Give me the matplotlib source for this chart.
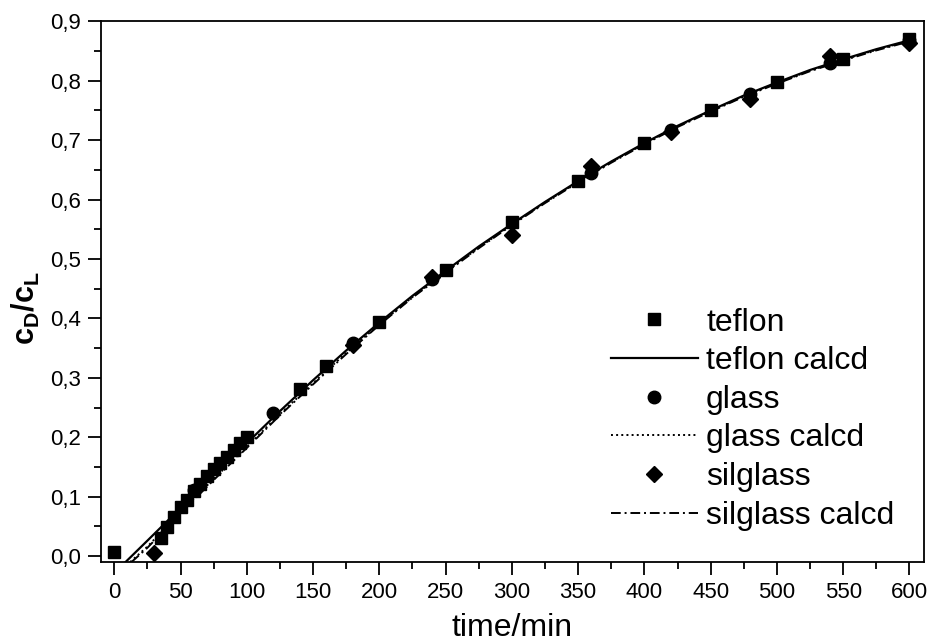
import numpy as np
import matplotlib
matplotlib.use('Agg')
import matplotlib.pyplot as plt
from matplotlib.ticker import MultipleLocator, FuncFormatter

plt.rcParams['font.family'] = ['Liberation Sans', 'DejaVu Sans']
plt.rcParams['mathtext.fontset'] = 'custom'
plt.rcParams['mathtext.bf'] = 'Liberation Sans:bold'
plt.rcParams['mathtext.rm'] = 'Liberation Sans'

# measured points
teflon_t = [0, 35, 40, 45, 50, 55, 60, 65, 70, 75, 80, 85, 90, 95, 100,
            140, 160, 200, 250, 300, 350, 400, 450, 500, 550, 600]
teflon_c = [0.007, 0.030, 0.049, 0.066, 0.082, 0.095, 0.109, 0.121, 0.134, 0.146,
            0.156, 0.167, 0.179, 0.190, 0.200,
            0.281, 0.320, 0.394, 0.481, 0.562, 0.632, 0.695, 0.750, 0.797, 0.836, 0.870]

glass_t = [60, 120, 180, 240, 360, 420, 480, 540, 600]
glass_c = [0.111, 0.240, 0.358, 0.466, 0.645, 0.717, 0.778, 0.829, 0.868]

silglass_t = [30, 180, 240, 300, 360, 420, 480, 540, 600]
silglass_c = [0.005, 0.355, 0.470, 0.541, 0.656, 0.714, 0.770, 0.841, 0.864]

# calculated curves
fit_t = [25, 50, 75, 100, 125, 150, 175, 200, 225, 250, 275, 300, 325,
         350, 375, 400, 425, 450, 475, 500, 525, 550, 575, 600]
teflon_fit = [0.026, 0.081, 0.136, 0.190, 0.244, 0.296, 0.346, 0.393, 0.438, 0.480,
              0.521, 0.559, 0.596, 0.631, 0.664, 0.695, 0.724, 0.750, 0.775, 0.797,
              0.818, 0.836, 0.853, 0.868]
glass_fit = [0.016, 0.074, 0.130, 0.184, 0.239, 0.291, 0.342, 0.390, 0.436, 0.478,
             0.519, 0.558, 0.595, 0.630, 0.663, 0.694, 0.723, 0.749, 0.774, 0.796,
             0.817, 0.835, 0.852, 0.867]
silglass_fit = [0.014, 0.072, 0.128, 0.182, 0.237, 0.289, 0.340, 0.389, 0.435, 0.477,
                0.518, 0.557, 0.594, 0.629, 0.662, 0.693, 0.722, 0.748, 0.773, 0.795,
                0.816, 0.834, 0.851, 0.866]
teflon_start = (8.5, -0.01)
glass_start = (12.0, -0.01)
silglass_start = (13.0, -0.01)

fig = plt.figure(figsize=(9.33, 6.44), dpi=100)
ax = fig.add_axes([0.1083, 0.1273, 0.8821, 0.8397])

ax.plot(teflon_t, teflon_c, 's', color='black', ms=8, label='teflon', zorder=3)
ax.plot([teflon_start[0]] + fit_t, [teflon_start[1]] + teflon_fit, '-', color='black',
        lw=1.6, label='teflon calcd')
ax.plot(glass_t, glass_c, 'o', color='black', ms=9, label='glass', zorder=3)
ax.plot([glass_start[0]] + fit_t, [glass_start[1]] + glass_fit, ':', color='black',
        lw=1.4, label='glass calcd')
ax.plot(silglass_t, silglass_c, 'D', color='black', ms=8.5, label='silglass', zorder=3)
ax.plot([silglass_start[0]] + fit_t, [silglass_start[1]] + silglass_fit, '-.',
        color='black', lw=1.4, dashes=(5, 2, 1, 2), label='silglass calcd')

ax.set_xlim(-10, 611)
ax.set_ylim(-0.01, 0.9)
ax.xaxis.set_major_locator(MultipleLocator(50))
ax.xaxis.set_minor_locator(MultipleLocator(25))
ax.yaxis.set_major_locator(MultipleLocator(0.1))
ax.yaxis.set_minor_locator(MultipleLocator(0.05))
ax.yaxis.set_major_formatter(FuncFormatter(lambda v, p: f'{v:.1f}'.replace('.', ',')))
ax.tick_params(which='major', direction='out', length=9.5, width=1.3, labelsize=16, pad=5)
ax.tick_params(which='minor', direction='out', length=4.7, width=1.3)
for s in ax.spines.values():
    s.set_linewidth(1.3)

ax.set_xlabel('time/min', fontsize=23, labelpad=7)
ax.set_ylabel(r'$\mathbf{c}_\mathbf{D}\mathbf{/c}_\mathbf{L}$', fontsize=22)
ax.yaxis.set_label_coords(-0.072, 0.47)

ax.legend(loc='upper left', bbox_to_anchor=(0.60, 0.50), frameon=False, fontsize=23,
          handlelength=2.73, handletextpad=0.25, labelspacing=0.27, borderpad=0)

fig.savefig('out.png', dpi=100)
